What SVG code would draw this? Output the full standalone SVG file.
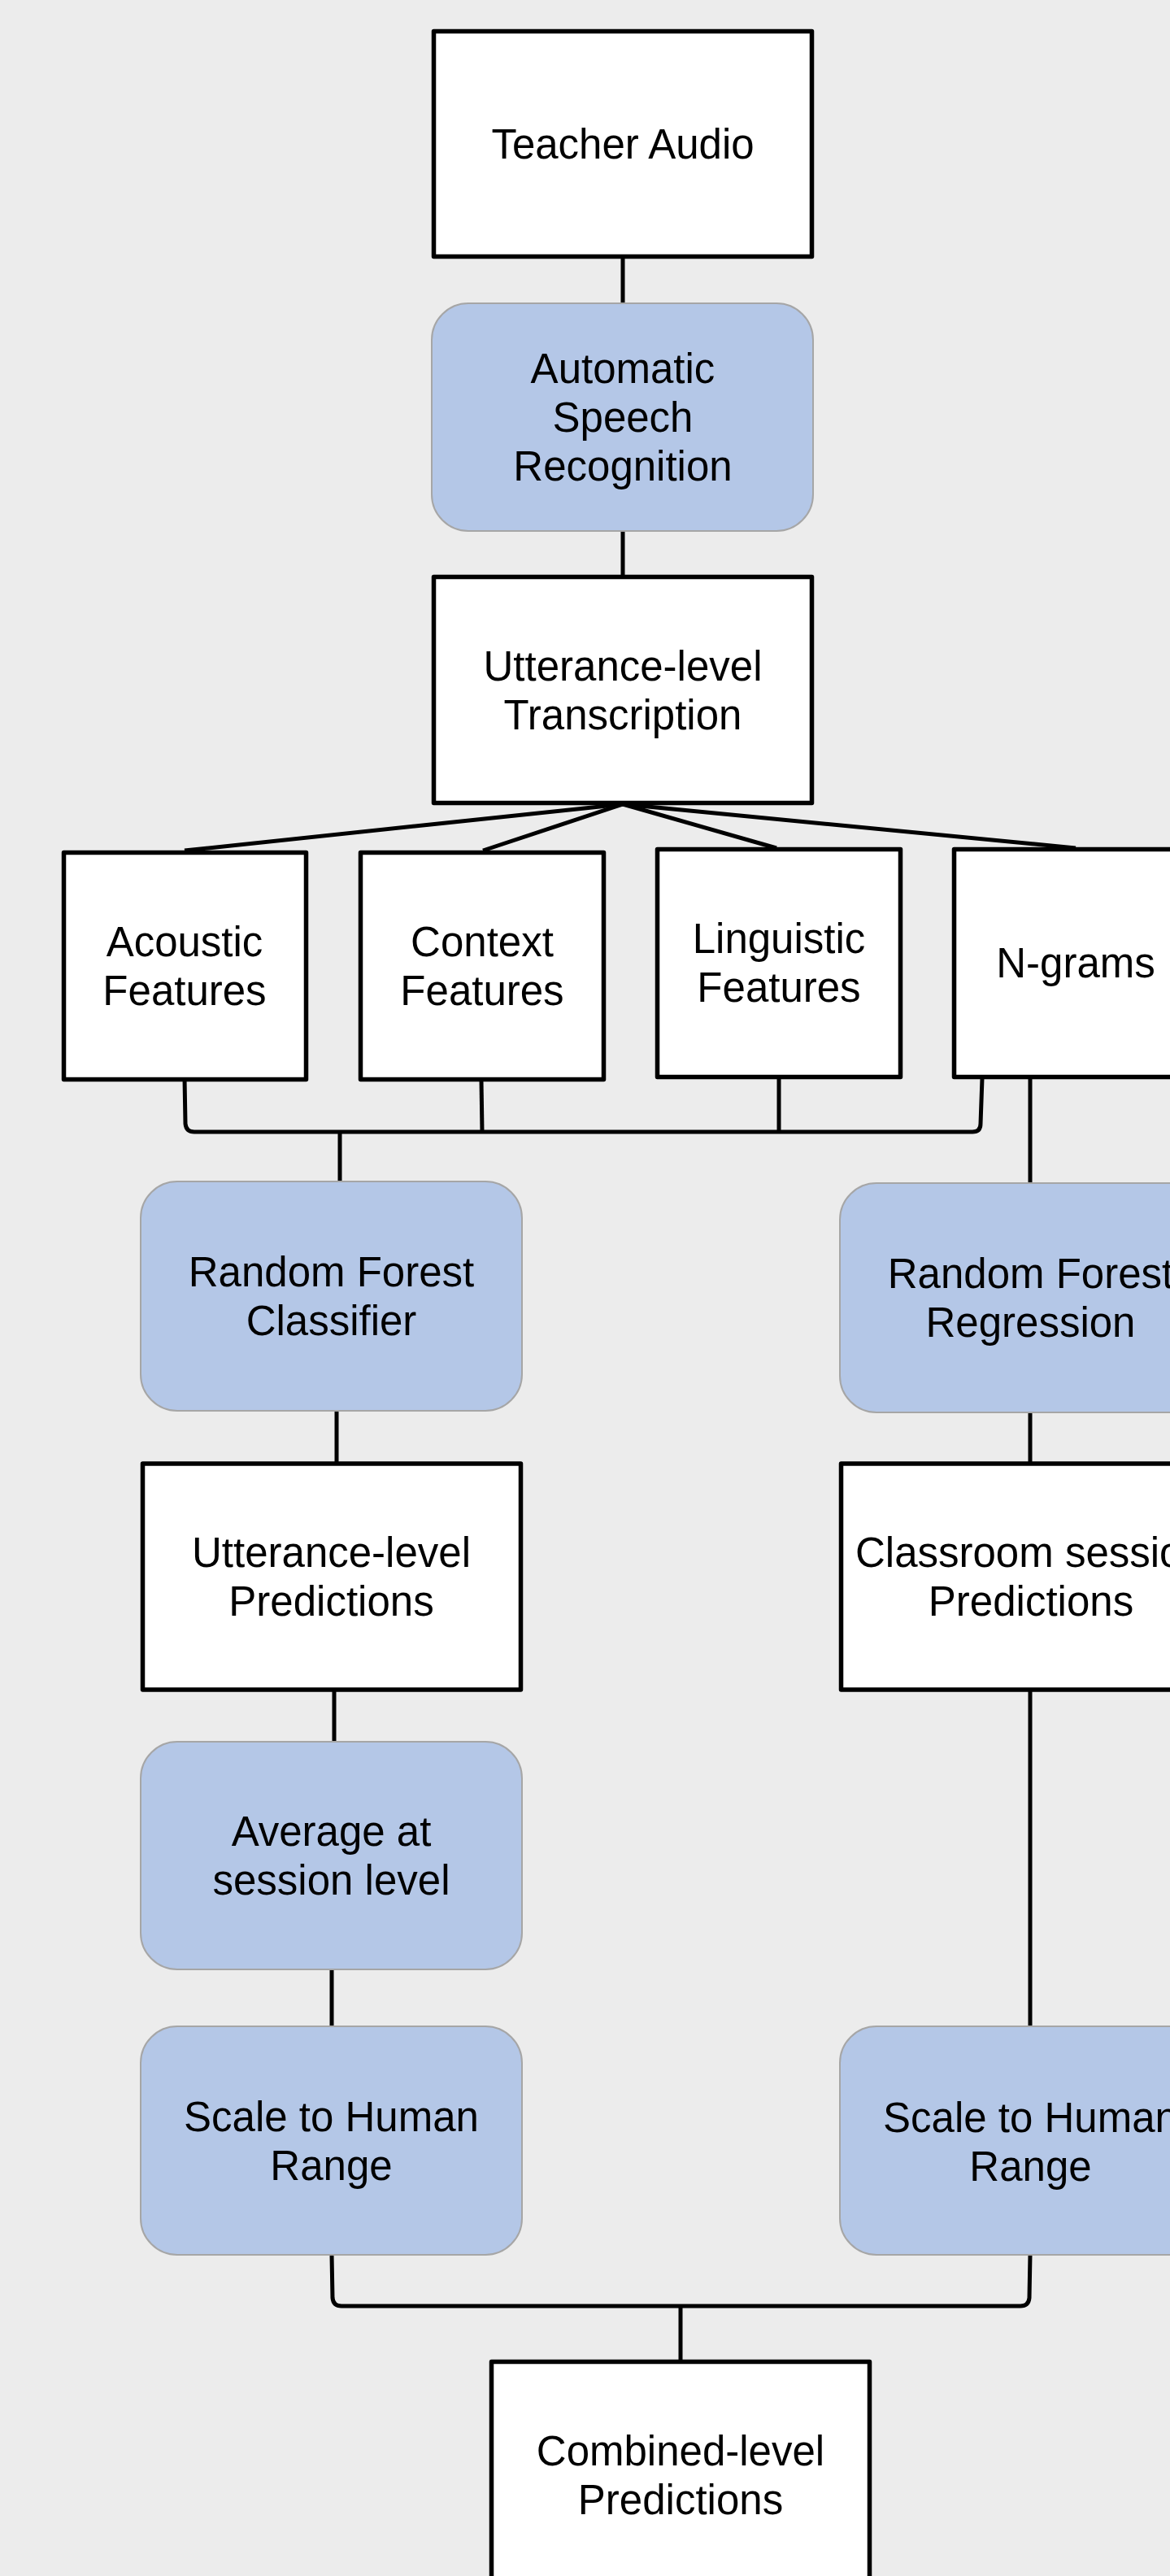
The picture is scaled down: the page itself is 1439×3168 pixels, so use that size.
<svg xmlns="http://www.w3.org/2000/svg" width="1439" height="3168" viewBox="0 0 1439 3168">
<style>
.box{fill:#ffffff;stroke:#000000;stroke-width:5.5;stroke-linejoin:round}
.proc{fill:#b4c7e7;stroke:#a6a6a6;stroke-width:2}
.lbl{font-family:"Liberation Sans",Arial,sans-serif;font-size:51px;fill:#000000;text-anchor:middle}
.conn{fill:none;stroke:#000000;stroke-width:5;stroke-linejoin:round;stroke-linecap:butt}
</style>
<rect x="0" y="0" width="1439" height="3168" fill="#ececec"/>
<g id="connectors">
<path class="conn" d="M766,317 L766,373"/>
<path class="conn" d="M766,653 L766,707"/>
<path class="conn" d="M766,989 L227,1046"/>
<path class="conn" d="M766,989 L594,1046"/>
<path class="conn" d="M766,989 L955,1043"/>
<path class="conn" d="M766,989 L1323,1043"/>
<path class="conn" d="M227,1326 L228,1382 Q229,1392 239,1392 L1196,1392 Q1206,1392 1206,1382 L1208,1326"/>
<path class="conn" d="M592,1329 L593,1392"/>
<path class="conn" d="M958,1326 L958,1392"/>
<path class="conn" d="M418,1392 L418,1453"/>
<path class="conn" d="M1267,1326 L1267,1455"/>
<path class="conn" d="M414,1735 L414,1798"/>
<path class="conn" d="M1267,1737 L1267,1798"/>
<path class="conn" d="M411,2080 L411,2142"/>
<path class="conn" d="M408,2422 L408,2492"/>
<path class="conn" d="M1267,2080 L1267,2492"/>
<path class="conn" d="M408,2773 L409,2826 Q410,2836 420,2836 L1255,2836 Q1265,2836 1266,2826 L1267,2773"/>
<path class="conn" d="M837,2836 L837,2903"/>
</g>
<g id="teacher-audio">
<rect class="box" x="533.5" y="38.5" width="465" height="277"/>
<text class="lbl" x="766" y="195">Teacher Audio</text>
</g>
<g id="asr">
<rect class="proc" x="531" y="373" width="469" height="280" rx="45" ry="45"/>
<text class="lbl" x="766" y="471">Automatic</text>
<text class="lbl" x="766" y="531">Speech</text>
<text class="lbl" x="766" y="591">Recognition</text>
</g>
<g id="utterance-transcription">
<rect class="box" x="533.5" y="709.5" width="465" height="278"/>
<text class="lbl" x="766" y="837">Utterance-level</text>
<text class="lbl" x="766" y="897">Transcription</text>
</g>
<g id="acoustic-features">
<rect class="box" x="78.5" y="1048.5" width="298" height="279"/>
<text class="lbl" x="227" y="1176">Acoustic</text>
<text class="lbl" x="227" y="1236">Features</text>
</g>
<g id="context-features">
<rect class="box" x="443.5" y="1048.5" width="299" height="279"/>
<text class="lbl" x="593" y="1176">Context</text>
<text class="lbl" x="593" y="1236">Features</text>
</g>
<g id="linguistic-features">
<rect class="box" x="808.5" y="1044.5" width="299" height="280"/>
<text class="lbl" x="958" y="1172">Linguistic</text>
<text class="lbl" x="958" y="1232">Features</text>
</g>
<g id="n-grams">
<rect class="box" x="1173.5" y="1044.5" width="299" height="280"/>
<text class="lbl" x="1323" y="1202">N-grams</text>
</g>
<g id="rf-classifier">
<rect class="proc" x="173" y="1453" width="469" height="282" rx="45" ry="45"/>
<text class="lbl" x="407.5" y="1582">Random Forest</text>
<text class="lbl" x="407.5" y="1642">Classifier</text>
</g>
<g id="rf-regression">
<rect class="proc" x="1033" y="1455" width="469" height="282" rx="45" ry="45"/>
<text class="lbl" x="1267.5" y="1584">Random Forest</text>
<text class="lbl" x="1267.5" y="1644">Regression</text>
</g>
<g id="utterance-predictions">
<rect class="box" x="175.5" y="1800" width="465" height="278"/>
<text class="lbl" x="407.5" y="1927">Utterance-level</text>
<text class="lbl" x="407.5" y="1987">Predictions</text>
</g>
<g id="classroom-predictions">
<rect class="box" x="1034.5" y="1800" width="465" height="278"/>
<text class="lbl" x="1052" y="1927" style="text-anchor:start">Classroom session</text>
<text class="lbl" x="1268" y="1987">Predictions</text>
</g>
<g id="average-session">
<rect class="proc" x="173" y="2142" width="469" height="280" rx="45" ry="45"/>
<text class="lbl" x="407.5" y="2270">Average at</text>
<text class="lbl" x="407.5" y="2330">session level</text>
</g>
<g id="scale-left">
<rect class="proc" x="173" y="2492" width="469" height="281" rx="45" ry="45"/>
<text class="lbl" x="407.5" y="2621">Scale to Human</text>
<text class="lbl" x="407.5" y="2681">Range</text>
</g>
<g id="scale-right">
<rect class="proc" x="1033" y="2492" width="469" height="281" rx="45" ry="45"/>
<text class="lbl" x="1267.5" y="2622">Scale to Human</text>
<text class="lbl" x="1267.5" y="2682">Range</text>
</g>
<g id="combined-predictions">
<rect class="box" x="604.5" y="2904.5" width="465" height="280"/>
<text class="lbl" x="837" y="3032">Combined-level</text>
<text class="lbl" x="837" y="3092">Predictions</text>
</g>
</svg>
